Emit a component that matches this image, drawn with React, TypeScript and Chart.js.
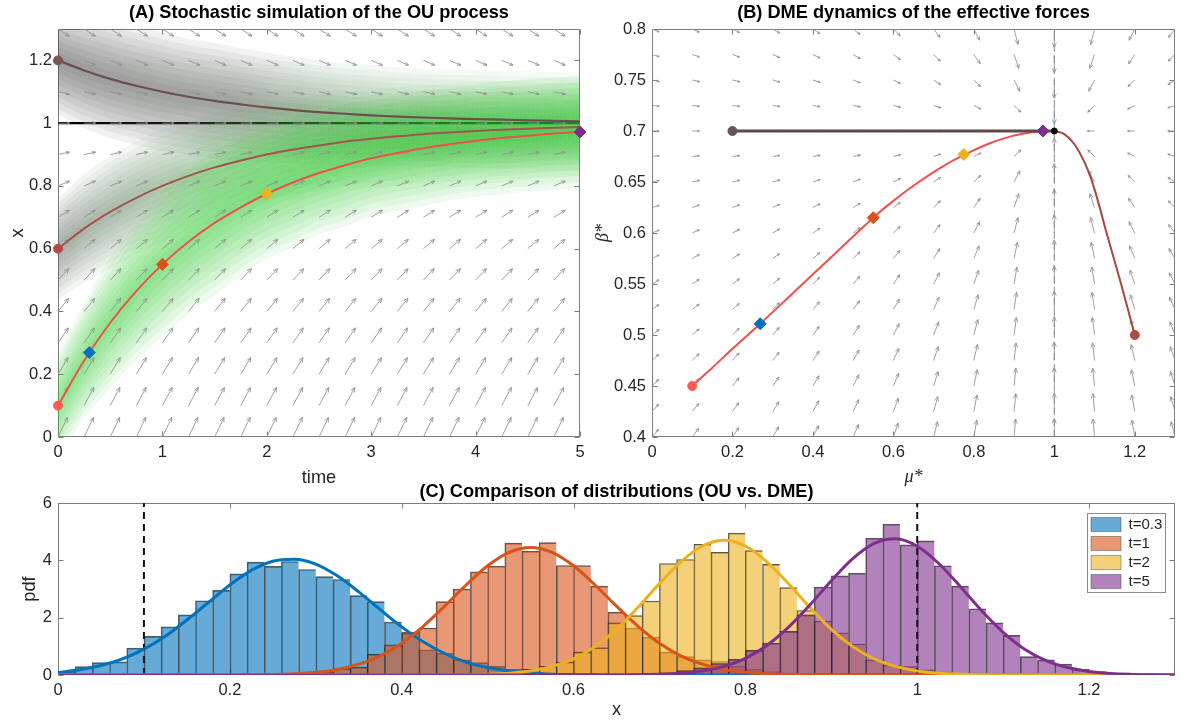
import React, { useEffect, useRef } from 'react';
import { Chart, registerables } from 'chart.js';

Chart.register(...registerables);

const FONT = '"Liberation Sans", Arial, Helvetica, sans-serif';
const SERIF = '"Liberation Serif", "DejaVu Serif", serif';
const TEXT = '#262626';
const FRAME = '#7d7d7d';
const ARROW = '#8f8f8f';
Chart.defaults.font.family = FONT;
Chart.defaults.color = TEXT;

// ================= Panel A : OU simulation =================
const A_TIME = [0, 0.25, 0.5, 0.75, 1, 1.25, 1.5, 1.75, 2, 2.25, 2.5, 2.75, 3, 3.25, 3.5, 3.75, 4, 4.25, 4.5, 4.75, 5];
const A_PATH_FROM_01 = [0.1, 0.243, 0.364, 0.465, 0.55, 0.622, 0.682, 0.732, 0.775, 0.811, 0.841, 0.866, 0.888, 0.905, 0.92, 0.933, 0.944, 0.953, 0.96, 0.967, 0.972];
const A_PATH_FROM_06 = [0.6, 0.664, 0.717, 0.762, 0.8, 0.832, 0.859, 0.881, 0.9, 0.916, 0.929, 0.941, 0.95, 0.958, 0.965, 0.97, 0.975, 0.979, 0.982, 0.985, 0.988];
const A_PATH_FROM_12 = [1.2, 1.168, 1.141, 1.119, 1.1, 1.084, 1.071, 1.06, 1.05, 1.042, 1.035, 1.03, 1.025, 1.021, 1.018, 1.015, 1.013, 1.011, 1.009, 1.007, 1.006];
const A_SPREAD_01 = [0.07, 0.08, 0.09, 0.095, 0.1, 0.1, 0.1, 0.095, 0.09, 0.09, 0.085, 0.085, 0.08, 0.08, 0.08, 0.078, 0.078, 0.078, 0.078, 0.078, 0.078];
const A_SPREAD_06 = [0.07, 0.075, 0.078, 0.078, 0.078, 0.075, 0.075, 0.072, 0.07, 0.07, 0.07, 0.068, 0.068, 0.068, 0.068, 0.068, 0.068, 0.068, 0.068, 0.068, 0.068];
const A_SPREAD_12 = [0.075, 0.08, 0.082, 0.082, 0.082, 0.08, 0.08, 0.078, 0.076, 0.074, 0.072, 0.07, 0.07, 0.068, 0.068, 0.068, 0.068, 0.068, 0.068, 0.068, 0.068];
const A_EQ_TIME = [0, 5];
const A_EQ_X = [1, 1];
const A_START_X = [0.1, 0.6, 1.2];
const A_START_COLORS = ['#ff5a55', '#b34a48', '#7a5555'];
const A_SNAP_T = [0.3, 1, 2, 5];
const A_SNAP_X = [0.269, 0.55, 0.775, 0.972];
const A_QUIVER_T = [0, 0.25, 0.5, 0.75, 1, 1.25, 1.5, 1.75, 2, 2.25, 2.5, 2.75, 3, 3.25, 3.5, 3.75, 4, 4.25, 4.5, 4.75];
const A_QUIVER_X = [0, 0.1, 0.2, 0.3, 0.4, 0.5, 0.6, 0.7, 0.8, 0.9, 1, 1.1, 1.2, 1.3];
const A_QUIVER_SLOPE = [0.69, 0.62, 0.55, 0.48, 0.41, 0.35, 0.28, 0.21, 0.14, 0.07, 0, -0.07, -0.14, -0.21];
const A_X_TICKS = [0, 1, 2, 3, 4, 5];
const A_Y_TICKS = [0, 0.2, 0.4, 0.6, 0.8, 1, 1.2];

// ================= Panel B : DME dynamics =================
const B_RED_MU = [0.1, 0.15, 0.2, 0.269, 0.35, 0.45, 0.55, 0.6, 0.656, 0.72, 0.778, 0.84, 0.89, 0.94, 0.972, 1.0];
const B_RED_BETA = [0.45, 0.468, 0.4865, 0.511, 0.541, 0.578, 0.615, 0.6315, 0.648, 0.6646, 0.677, 0.688, 0.6945, 0.6985, 0.6998, 0.7];
const B_BROWN_MU = [1.2, 1.166, 1.13, 1.108, 1.09, 1.073, 1.05, 1.025, 1.0];
const B_BROWN_BETA = [0.5, 0.55, 0.6, 0.632, 0.655, 0.671, 0.687, 0.697, 0.7];
const B_FLAT_MU = [0.2, 1.0];
const B_FLAT_BETA = [0.7, 0.7];
const B_START_MU = [0.1, 0.2, 1.2];
const B_START_BETA = [0.45, 0.7, 0.5];
const B_START_COLORS = ['#ff5a55', '#6a5555', '#b04a45'];
const B_SNAP_MU = [0.269, 0.55, 0.775, 0.972];
const B_SNAP_BETA = [0.511, 0.615, 0.677, 0.7];
const B_FIXED_MU = [1];
const B_FIXED_BETA = [0.7];
const B_VLINE_MU = [1, 1];
const B_VLINE_BETA = [0.4, 0.8];
const B_QUIVER_MU = [0, 0.1, 0.2, 0.3, 0.4, 0.5, 0.6, 0.7, 0.8, 0.9, 1, 1.1, 1.2, 1.3];
const B_QUIVER_BETA = [0.4, 0.425, 0.45, 0.475, 0.5, 0.525, 0.55, 0.575, 0.6, 0.625, 0.65, 0.675, 0.7, 0.725, 0.75, 0.775, 0.8];
const B_QUIVER_DMU = [0.69, 0.62, 0.55, 0.48, 0.41, 0.35, 0.28, 0.21, 0.14, 0.07, 0, -0.07, -0.14, -0.21];
const B_QUIVER_DBETA = [0.324, 0.297, 0.27, 0.243, 0.216, 0.189, 0.162, 0.135, 0.108, 0.081, 0.054, 0.027, 0, -0.027, -0.054, -0.081, -0.108];
const B_X_TICKS = [0, 0.2, 0.4, 0.6, 0.8, 1, 1.2];
const B_Y_TICKS = [0.4, 0.45, 0.5, 0.55, 0.6, 0.65, 0.7, 0.75, 0.8];

// ================= Panel C : distributions =================
const C_LABELS = ['t=0.3', 't=1', 't=2', 't=5'];
const C_BIN_WIDTH = 0.02;
const C_HIST_T03_START = 0;
const C_HIST_T03 = [0.12, 0.29, 0.43, 0.46, 0.94, 1.35, 1.68, 2.1, 2.59, 2.95, 3.53, 3.94, 3.79, 3.96, 3.68, 3.43, 3.33, 2.77, 2.56, 1.85, 1.45, 0.88, 0.76, 0.53, 0.43, 0.3, 0.2, 0.12, 0.06, 0.03];
const C_HIST_T1_START = 0.26;
const C_HIST_T1 = [0.04, 0.08, 0.12, 0.22, 0.27, 0.72, 1.05, 1.5, 1.64, 2.56, 3.0, 3.6, 3.8, 4.6, 4.32, 4.62, 3.82, 3.82, 3.1, 2.19, 1.64, 1.32, 0.8, 0.64, 0.53, 0.47, 0.3, 0.2, 0.12, 0.08, 0.04];
const C_HIST_T2_START = 0.5;
const C_HIST_T2 = [0.05, 0.1, 0.2, 0.3, 0.45, 0.8, 0.95, 1.82, 2.07, 2.58, 3.89, 4.03, 4.56, 4.28, 4.95, 4.34, 3.86, 3.05, 2.25, 1.88, 1.47, 1.08, 0.53, 0.35, 0.29, 0.18, 0.1, 0.06, 0.03];
const C_HIST_T5_START = 0.68;
const C_HIST_T5 = [0.05, 0.08, 0.15, 0.25, 0.4, 0.55, 0.86, 1.11, 1.52, 2.1, 3.07, 3.46, 3.55, 4.77, 5.26, 4.54, 4.68, 3.81, 3.1, 2.31, 1.82, 1.38, 0.64, 0.53, 0.38, 0.2, 0.12, 0.06, 0.03];
const C_CURVE_X = [0, 0.025, 0.05, 0.075, 0.1, 0.125, 0.15, 0.175, 0.2, 0.225, 0.25, 0.275, 0.3, 0.325, 0.35, 0.375, 0.4, 0.425, 0.45, 0.475, 0.5, 0.525, 0.55, 0.575, 0.6, 0.625, 0.65, 0.675, 0.7, 0.725, 0.75, 0.775, 0.8, 0.825, 0.85, 0.875, 0.9, 0.925, 0.95, 0.975, 1, 1.025, 1.05, 1.075, 1.1, 1.125, 1.15, 1.175, 1.2, 1.225, 1.25, 1.275, 1.3];
const C_PDF_T03 = [0.09, 0.18, 0.33, 0.56, 0.9, 1.35, 1.92, 2.53, 3.14, 3.65, 3.97, 4.04, 3.87, 3.46, 2.9, 2.28, 1.68, 1.16, 0.75, 0.45, 0.26, 0.14, 0.07, 0.03, 0.01, 0.005, 0, 0, 0, 0, 0, 0, 0, 0, 0, 0, 0, 0, 0, 0, 0, 0, 0, 0, 0, 0, 0, 0, 0, 0, 0, 0, 0];
const C_PDF_T1 = [0, 0, 0, 0, 0, 0, 0, 0, 0.002, 0.007, 0.017, 0.04, 0.094, 0.195, 0.38, 0.67, 1.11, 1.7, 2.4, 3.14, 3.81, 4.28, 4.45, 4.28, 3.81, 3.14, 2.4, 1.7, 1.11, 0.67, 0.38, 0.195, 0.094, 0.04, 0.017, 0.007, 0.002, 0, 0, 0, 0, 0, 0, 0, 0, 0, 0, 0, 0, 0, 0, 0, 0];
const C_PDF_T2 = [0, 0, 0, 0, 0, 0, 0, 0, 0, 0, 0, 0, 0, 0, 0, 0, 0, 0, 0.003, 0.009, 0.025, 0.062, 0.14, 0.3, 0.56, 0.99, 1.59, 2.36, 3.19, 3.95, 4.5, 4.7, 4.5, 3.95, 3.19, 2.36, 1.59, 0.99, 0.56, 0.3, 0.14, 0.062, 0.025, 0.009, 0.003, 0, 0, 0, 0, 0, 0, 0, 0];
const C_PDF_T5 = [0, 0, 0, 0, 0, 0, 0, 0, 0, 0, 0, 0, 0, 0, 0, 0, 0, 0, 0, 0, 0, 0, 0, 0, 0, 0, 0.003, 0.009, 0.025, 0.063, 0.14, 0.3, 0.58, 1.03, 1.66, 2.44, 3.29, 4.06, 4.59, 4.75, 4.49, 3.89, 3.09, 2.24, 1.49, 0.9, 0.5, 0.26, 0.12, 0.05, 0.02, 0.007, 0.002];
const C_DASH_X = [0.1, 1.0];
const C_X_TICKS = [0, 0.2, 0.4, 0.6, 0.8, 1, 1.2];
const C_Y_TICKS = [0, 2, 4, 6];

const SNAP_COLORS = ['#0072BD', '#D95319', '#EDB120', '#7E2F8E'];
const HIST_FILL = ['rgba(0,114,189,0.6)', 'rgba(217,83,25,0.6)', 'rgba(237,177,32,0.6)', 'rgba(126,47,142,0.6)'];

// ---------------- helpers ----------------
function fmt(v: any) {
  return String(Math.round(Number(v) * 1000) / 1000);
}

function pts(xs: number[], ys: number[]) {
  return xs.map((x, i) => ({ x, y: ys[i] }));
}

function linearAxis(o: any) {
  return {
    type: 'linear',
    min: o.min,
    max: o.max,
    offset: false,
    afterBuildTicks: (s: any) => {
      s.ticks = o.ticks.map((v: number) => ({ value: v }));
    },
    afterFit: (s: any) => {
      if (o.horizontal) s.height = o.size;
      else s.width = o.size;
    },
    ticks: {
      autoSkip: false,
      maxRotation: 0,
      minRotation: 0,
      padding: 6,
      color: TEXT,
      font: { size: 16.5, family: FONT },
      callback: (v: any) => fmt(v),
    },
    grid: { display: false, drawTicks: false },
    border: { display: false },
    title: {
      display: true,
      text: o.title,
      color: TEXT,
      font: o.titleFont || { size: 18.2, family: FONT },
      padding: o.titlePad,
    },
  };
}

function panelTitle(text: string, pad: any) {
  return {
    display: true,
    text,
    fullSize: false,
    color: '#000',
    font: { size: 18.2, weight: 'bold', family: FONT },
    padding: pad,
  };
}

function framePlugin(xTicks: number[], yTicks: number[]) {
  return {
    id: 'axesBox',
    beforeDatasetsDraw(chart: any) {
      const { ctx, chartArea: a } = chart;
      const sx = chart.scales.x;
      const sy = chart.scales.y;
      const L = Math.round(a.left) + 0.5;
      const R = Math.round(a.right) - 0.5;
      const T = Math.round(a.top) + 0.5;
      const B = Math.round(a.bottom) - 0.5;
      ctx.save();
      ctx.strokeStyle = FRAME;
      ctx.lineWidth = 1;
      ctx.strokeRect(L, T, R - L, B - T);
      ctx.beginPath();
      for (const v of xTicks) {
        const p = Math.round(sx.getPixelForValue(v)) + 0.5;
        ctx.moveTo(p, B);
        ctx.lineTo(p, B - 5);
        ctx.moveTo(p, T);
        ctx.lineTo(p, T + 5);
      }
      for (const v of yTicks) {
        const p = Math.round(sy.getPixelForValue(v)) + 0.5;
        ctx.moveTo(L, p);
        ctx.lineTo(L + 5, p);
        ctx.moveTo(R, p);
        ctx.lineTo(R - 5, p);
      }
      ctx.stroke();
      ctx.restore();
    },
  };
}

function quiverPlugin(arrows: any[], len: number, afterIndex: number) {
  const draw = (chart: any) => {
    const { ctx, chartArea: a } = chart;
    const sx = chart.scales.x;
    const sy = chart.scales.y;
    ctx.save();
    ctx.beginPath();
    ctx.rect(a.left, a.top, a.right - a.left, a.bottom - a.top);
    ctx.clip();
    ctx.strokeStyle = ARROW;
    ctx.lineWidth = 0.85;
    ctx.beginPath();
    for (const ar of arrows) {
      const n = Math.hypot(ar.u, ar.v);
      if (n === 0) continue;
      const x0 = sx.getPixelForValue(ar.x);
      const y0 = sy.getPixelForValue(ar.y);
      const x1 = sx.getPixelForValue(ar.x + (ar.u / n) * len);
      const y1 = sy.getPixelForValue(ar.y + (ar.v / n) * len);
      const ang = Math.atan2(y1 - y0, x1 - x0);
      const L = Math.hypot(x1 - x0, y1 - y0);
      const h = Math.max(2.5, Math.min(5, L * 0.32));
      ctx.moveTo(x0, y0);
      ctx.lineTo(x1, y1);
      ctx.moveTo(x1 - h * Math.cos(ang - 0.42), y1 - h * Math.sin(ang - 0.42));
      ctx.lineTo(x1, y1);
      ctx.lineTo(x1 - h * Math.cos(ang + 0.42), y1 - h * Math.sin(ang + 0.42));
    }
    ctx.stroke();
    ctx.restore();
  };
  return {
    id: 'quiver',
    beforeDatasetsDraw(chart: any) {
      if (afterIndex < 0) draw(chart);
    },
    afterDatasetDraw(chart: any, args: any) {
      if (args.index === afterIndex) draw(chart);
    },
  };
}

function gradientFill(stops: any[]) {
  return (c: any) => {
    const chart = c.chart;
    const a = chart.chartArea;
    if (!a) return 'rgba(0,0,0,0)';
    const g = chart.ctx.createLinearGradient(a.left, 0, a.right, 0);
    for (const s of stops) g.addColorStop(s[0], `rgba(${s[1][0]},${s[1][1]},${s[1][2]},${s[2]})`);
    return g;
  };
}

const BAND_K = [2.3, 2.05, 1.8, 1.55, 1.3, 1.05, 0.8, 0.55, 0.3];

function cloud(mean: number[], spread: number[], stops: any[]) {
  const out: any[] = [];
  const bg = gradientFill(stops);
  for (const k of BAND_K) {
    out.push({
      type: 'line',
      data: A_TIME.map((t, i) => ({ x: t, y: mean[i] - k * spread[i] })),
      borderWidth: 0,
      borderColor: 'rgba(0,0,0,0)',
      pointRadius: 0,
      fill: false,
      tension: 0.3,
    });
    out.push({
      type: 'line',
      data: A_TIME.map((t, i) => ({ x: t, y: mean[i] + k * spread[i] })),
      borderWidth: 0,
      borderColor: 'rgba(0,0,0,0)',
      pointRadius: 0,
      fill: '-1',
      backgroundColor: bg,
      tension: 0.3,
    });
  }
  return out;
}

function withOrder(ds: any[]) {
  ds.forEach((d, i) => {
    d.order = ds.length - i;
  });
  return ds;
}

const BASE = {
  animation: false,
  responsive: false,
  maintainAspectRatio: false,
  devicePixelRatio: 1,
  events: [],
};

// ---------------- configs ----------------
function configA(): any {
  const ds: any[] = [];
  ds.push({
    type: 'line',
    data: pts(A_EQ_TIME, A_EQ_X),
    borderColor: '#000',
    borderWidth: 2.2,
    pointRadius: 0,
    fill: false,
  });
  ds.push(
    ...cloud(A_PATH_FROM_12, A_SPREAD_12, [
      [0, [60, 60, 60], 0.075],
      [0.35, [70, 80, 70], 0.075],
      [0.6, [55, 125, 55], 0.055],
      [1, [35, 170, 35], 0.04],
    ])
  );
  ds.push(
    ...cloud(A_PATH_FROM_06, A_SPREAD_06, [
      [0, [75, 85, 75], 0.065],
      [0.2, [65, 125, 65], 0.06],
      [0.4, [40, 170, 40], 0.05],
      [1, [35, 170, 35], 0.035],
    ])
  );
  ds.push(
    ...cloud(A_PATH_FROM_01, A_SPREAD_01, [
      [0, [30, 200, 30], 0.07],
      [1, [30, 195, 30], 0.075],
    ])
  );
  const lastCloud = ds.length - 1;
  ds.push({ type: 'line', data: pts(A_TIME, A_PATH_FROM_12), borderColor: '#6e4f4f', borderWidth: 2.2, pointRadius: 0, tension: 0.35, fill: false });
  ds.push({ type: 'line', data: pts(A_TIME, A_PATH_FROM_06), borderColor: '#a4544c', borderWidth: 2, pointRadius: 0, tension: 0.35, fill: false });
  ds.push({ type: 'line', data: pts(A_TIME, A_PATH_FROM_01), borderColor: '#f0504a', borderWidth: 2, pointRadius: 0, tension: 0.35, fill: false });
  ds.push({
    type: 'line',
    data: A_START_X.map((x) => ({ x: 0, y: x })),
    showLine: false,
    pointStyle: 'circle',
    pointRadius: 4.5,
    pointBackgroundColor: A_START_COLORS,
    pointBorderColor: A_START_COLORS,
    clip: false,
  });
  ds.push({
    type: 'line',
    data: pts(A_SNAP_T, A_SNAP_X),
    showLine: false,
    pointStyle: 'rectRot',
    pointRadius: 6,
    pointBackgroundColor: SNAP_COLORS,
    pointBorderColor: SNAP_COLORS,
    clip: false,
  });
  const arrows: any[] = [];
  for (const t of A_QUIVER_T) A_QUIVER_X.forEach((x, i) => arrows.push({ x: t, y: x, u: 1, v: A_QUIVER_SLOPE[i] }));
  return {
    type: 'line',
    data: { datasets: withOrder(ds) },
    options: {
      ...BASE,
      layout: { padding: { left: 0, right: 20, top: 0, bottom: 0 } },
      plugins: {
        legend: { display: false },
        tooltip: { enabled: false },
        title: panelTitle('(A) Stochastic simulation of the OU process', { top: 2, bottom: 5.16 }),
      },
      scales: {
        x: linearAxis({ min: 0, max: 5, ticks: A_X_TICKS, size: 63, horizontal: true, title: 'time', titlePad: { top: 0, bottom: 11.1 } }),
        y: linearAxis({ min: 0, max: 1.3, ticks: A_Y_TICKS, size: 58, horizontal: false, title: 'x', titlePad: { top: 6.6, bottom: 0 } }),
      },
    },
    plugins: [framePlugin(A_X_TICKS, A_Y_TICKS), quiverPlugin(arrows, 0.11, lastCloud)],
  };
}

function configB(): any {
  const ds: any[] = [];
  ds.push({ type: 'line', data: pts(B_VLINE_MU, B_VLINE_BETA), borderColor: '#8c8c8c', borderWidth: 1, borderDash: [7, 4], pointRadius: 0, fill: false });
  ds.push({ type: 'line', data: pts(B_RED_MU, B_RED_BETA), borderColor: '#f0504a', borderWidth: 2, pointRadius: 0, tension: 0.3, fill: false });
  ds.push({ type: 'line', data: pts(B_BROWN_MU, B_BROWN_BETA), borderColor: '#a8463f', borderWidth: 2, pointRadius: 0, tension: 0.3, fill: false });
  ds.push({ type: 'line', data: pts(B_FLAT_MU, B_FLAT_BETA), borderColor: '#5e4a4a', borderWidth: 3, pointRadius: 0, fill: false });
  ds.push({
    type: 'line',
    data: pts(B_START_MU, B_START_BETA),
    showLine: false,
    pointStyle: 'circle',
    pointRadius: 4.5,
    pointBackgroundColor: B_START_COLORS,
    pointBorderColor: B_START_COLORS,
    clip: false,
  });
  ds.push({
    type: 'line',
    data: pts(B_SNAP_MU, B_SNAP_BETA),
    showLine: false,
    pointStyle: 'rectRot',
    pointRadius: 6,
    pointBackgroundColor: SNAP_COLORS,
    pointBorderColor: SNAP_COLORS,
    clip: false,
  });
  ds.push({
    type: 'line',
    data: pts(B_FIXED_MU, B_FIXED_BETA),
    showLine: false,
    pointStyle: 'circle',
    pointRadius: 3,
    pointBackgroundColor: '#000',
    pointBorderColor: '#000',
    clip: false,
  });
  const arrows: any[] = [];
  B_QUIVER_MU.forEach((m, i) =>
    B_QUIVER_BETA.forEach((b, j) => arrows.push({ x: m, y: b, u: B_QUIVER_DMU[i], v: B_QUIVER_DBETA[j] }))
  );
  return {
    type: 'line',
    data: { datasets: withOrder(ds) },
    options: {
      ...BASE,
      layout: { padding: { left: 0, right: 8, top: 0, bottom: 0 } },
      plugins: {
        legend: { display: false },
        tooltip: { enabled: false },
        title: panelTitle('(B) DME dynamics of the effective forces', { top: 2, bottom: 5.16 }),
      },
      scales: {
        x: linearAxis({
          min: 0,
          max: 1.3,
          ticks: B_X_TICKS,
          size: 63,
          horizontal: true,
          title: 'μ*',
          titleFont: { size: 18.2, family: SERIF, style: 'italic' },
          titlePad: { top: 0, bottom: 12.1 },
        }),
        y: linearAxis({
          min: 0.4,
          max: 0.8,
          ticks: B_Y_TICKS,
          size: 67,
          horizontal: false,
          title: 'β*',
          titleFont: { size: 18.2, family: SERIF, style: 'italic' },
          titlePad: { top: 7.1, bottom: 0 },
        }),
      },
    },
    plugins: [framePlugin(B_X_TICKS, B_Y_TICKS), quiverPlugin(arrows, 0.018, -1)],
  };
}

function histData(start: number, heights: number[]) {
  return heights.map((h, i) => ({ x: Math.round((start + C_BIN_WIDTH * (i + 0.5)) * 1000) / 1000, y: h }));
}

const legendPlacer = {
  id: 'legendPlacer',
  afterLayout(chart: any) {
    const lg = chart.legend;
    if (!lg) return;
    const a = chart.chartArea;
    lg.left = a.right - 10 - 78;
    lg.top = a.top + 10;
    lg.width = 78;
    lg.height = 100;
    lg.right = lg.left + 78;
    lg.bottom = lg.top + 100;
  },
  afterDraw(chart: any) {
    const lg = chart.legend;
    if (!lg) return;
    const ctx = chart.ctx;
    ctx.save();
    ctx.strokeStyle = '#8a8a8a';
    ctx.lineWidth = 1;
    ctx.strokeRect(Math.round(lg.left) + 0.5, Math.round(lg.top) + 0.5, 78, 79);
    ctx.restore();
  },
};

function configC(): any {
  const ds: any[] = [];
  const hists = [
    [C_HIST_T03_START, C_HIST_T03],
    [C_HIST_T1_START, C_HIST_T1],
    [C_HIST_T2_START, C_HIST_T2],
    [C_HIST_T5_START, C_HIST_T5],
  ];
  hists.forEach((h: any, i) => {
    ds.push({
      type: 'bar',
      label: C_LABELS[i],
      data: histData(h[0], h[1]),
      backgroundColor: HIST_FILL[i],
      borderColor: 'rgba(30,30,30,0.75)',
      borderWidth: { left: 1, top: 1, right: 0, bottom: 0 },
      borderSkipped: false,
      grouped: false,
      barPercentage: 1,
      categoryPercentage: 1,
    });
  });
  C_DASH_X.forEach((x) => {
    ds.push({ type: 'line', data: [{ x, y: 0 }, { x, y: 6 }], borderColor: '#111', borderWidth: 2, borderDash: [7, 5], pointRadius: 0, fill: false });
  });
  [C_PDF_T03, C_PDF_T1, C_PDF_T2, C_PDF_T5].forEach((p, i) => {
    ds.push({
      type: 'line',
      data: pts(C_CURVE_X, p),
      borderColor: SNAP_COLORS[i],
      borderWidth: 3,
      pointRadius: 0,
      cubicInterpolationMode: 'monotone',
      fill: false,
    });
  });
  return {
    type: 'bar',
    data: { datasets: withOrder(ds) },
    options: {
      ...BASE,
      layout: { padding: { left: 0, right: 8, top: 0, bottom: 0 } },
      plugins: {
        legend: {
          display: true,
          position: 'chartArea',
          align: 'start',
          labels: {
            filter: (item: any) => item.datasetIndex < 4,
            sort: (a: any, b: any) => a.datasetIndex - b.datasetIndex,
            boxWidth: 30,
            boxHeight: 14,
            padding: 4,
            color: TEXT,
            font: { size: 15, family: FONT },
          },
        },
        tooltip: { enabled: false },
        title: panelTitle('(C) Comparison of distributions (OU vs. DME)', { top: 1, bottom: 0.16 }),
      },
      scales: {
        x: linearAxis({ min: 0, max: 1.3, ticks: C_X_TICKS, size: 46, horizontal: true, title: 'x', titlePad: { top: 0, bottom: 0 } }),
        y: linearAxis({ min: 0, max: 6, ticks: C_Y_TICKS, size: 58, horizontal: false, title: 'pdf', titlePad: { top: 19, bottom: 0 } }),
      },
    },
    plugins: [framePlugin(C_X_TICKS, C_Y_TICKS), legendPlacer],
  };
}

export default function App() {
  const aRef = useRef<HTMLCanvasElement>(null);
  const bRef = useRef<HTMLCanvasElement>(null);
  const cRef = useRef<HTMLCanvasElement>(null);

  useEffect(() => {
    const charts = [
      new Chart(aRef.current as HTMLCanvasElement, configA()),
      new Chart(bRef.current as HTMLCanvasElement, configB()),
      new Chart(cRef.current as HTMLCanvasElement, configC()),
    ];
    return () => charts.forEach((c) => c.destroy());
  }, []);

  return (
    <div style={{ position: 'absolute', left: 0, top: 0, width: 1183, height: 721, background: '#fff', overflow: 'hidden' }}>
      <canvas ref={aRef} width={600} height={500} style={{ position: 'absolute', left: 0, top: 0 }} />
      <canvas ref={bRef} width={598} height={500} style={{ position: 'absolute', left: 585, top: 0 }} />
      <canvas ref={cRef} width={1183} height={241} style={{ position: 'absolute', left: 0, top: 480 }} />
    </div>
  );
}
